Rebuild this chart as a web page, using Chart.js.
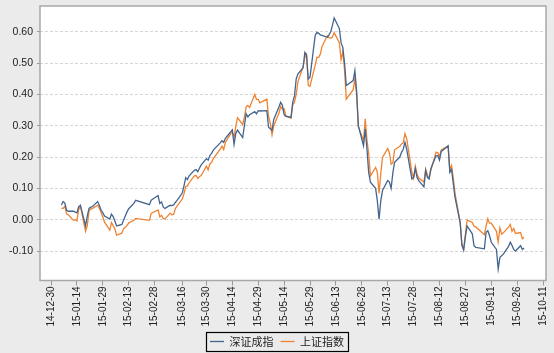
<!DOCTYPE html>
<html>
<head>
<meta charset="utf-8">
<script src="https://cdn.jsdelivr.net/npm/chart.js@4.4.1/dist/chart.umd.min.js"></script>
<style>
  html, body { margin: 0; padding: 0; background: #ebebeb; }
  #wrap { width: 554px; height: 353px; }
</style>
</head>
<body>
<div id="wrap"><canvas id="c" width="554" height="353"></canvas></div>
<script>
// ---- data ----
const dates = [
 '2015-01-05','2015-01-06','2015-01-07','2015-01-08','2015-01-09','2015-01-12','2015-01-13','2015-01-14','2015-01-15','2015-01-16',
 '2015-01-19','2015-01-20','2015-01-21','2015-01-22','2015-01-23','2015-01-26','2015-01-27','2015-01-28','2015-01-29','2015-01-30',
 '2015-02-02','2015-02-03','2015-02-04','2015-02-05','2015-02-06','2015-02-09','2015-02-10','2015-02-11','2015-02-12','2015-02-13',
 '2015-02-16','2015-02-17','2015-02-25','2015-02-26','2015-02-27','2015-03-02','2015-03-03','2015-03-04','2015-03-05','2015-03-06',
 '2015-03-09','2015-03-10','2015-03-11','2015-03-12','2015-03-13','2015-03-16','2015-03-17','2015-03-18','2015-03-19','2015-03-20',
 '2015-03-23','2015-03-24','2015-03-25','2015-03-26','2015-03-27','2015-03-30','2015-03-31','2015-04-01','2015-04-02','2015-04-03',
 '2015-04-07','2015-04-08','2015-04-09','2015-04-10','2015-04-13','2015-04-14','2015-04-15','2015-04-16','2015-04-17','2015-04-20',
 '2015-04-21','2015-04-22','2015-04-23','2015-04-24','2015-04-27','2015-04-28','2015-04-29','2015-04-30','2015-05-04','2015-05-05',
 '2015-05-06','2015-05-07','2015-05-08','2015-05-11','2015-05-12','2015-05-13','2015-05-14','2015-05-15','2015-05-18','2015-05-19',
 '2015-05-20','2015-05-21','2015-05-22','2015-05-25','2015-05-26','2015-05-27','2015-05-28','2015-05-29','2015-06-01','2015-06-02',
 '2015-06-03','2015-06-04','2015-06-05','2015-06-08','2015-06-09','2015-06-10','2015-06-11','2015-06-12','2015-06-15','2015-06-16',
 '2015-06-17','2015-06-18','2015-06-19','2015-06-23','2015-06-24','2015-06-25','2015-06-26','2015-06-29','2015-06-30','2015-07-01',
 '2015-07-02','2015-07-03','2015-07-06','2015-07-07','2015-07-08','2015-07-09','2015-07-10','2015-07-13','2015-07-14','2015-07-15',
 '2015-07-16','2015-07-17','2015-07-20','2015-07-21','2015-07-22','2015-07-23','2015-07-24','2015-07-27','2015-07-28','2015-07-29',
 '2015-07-30','2015-07-31','2015-08-03','2015-08-04','2015-08-05','2015-08-06','2015-08-07','2015-08-10','2015-08-11','2015-08-12',
 '2015-08-13','2015-08-14','2015-08-17','2015-08-18','2015-08-19','2015-08-20','2015-08-21','2015-08-24','2015-08-25','2015-08-26',
 '2015-08-27','2015-08-28','2015-08-31','2015-09-01','2015-09-02','2015-09-07','2015-09-08','2015-09-09','2015-09-10','2015-09-11',
 '2015-09-14','2015-09-15','2015-09-16','2015-09-17','2015-09-18','2015-09-21','2015-09-22','2015-09-23','2015-09-24','2015-09-25',
 '2015-09-28','2015-09-29','2015-09-30'
];

// 深证成指 cumulative return
const szValues = [
 0.047,0.058,0.053,0.030,0.027,0.027,0.024,0.022,0.042,0.046,
 -0.020,0.012,0.036,0.040,0.042,0.058,0.045,0.030,0.022,0.012,
 0.002,0.018,0.010,-0.005,-0.020,-0.015,-0.002,0.012,0.025,0.035,
 0.052,0.062,0.048,0.062,0.066,0.077,0.052,0.057,0.040,0.036,
 0.046,0.045,0.047,0.055,0.062,0.085,0.108,0.134,0.128,0.140,
 0.158,0.160,0.153,0.165,0.175,0.195,0.190,0.205,0.212,0.222,
 0.245,0.252,0.247,0.260,0.280,0.287,0.240,0.275,0.286,0.262,
 0.300,0.338,0.328,0.335,0.345,0.338,0.348,0.347,0.348,0.295,
 0.290,0.285,0.320,0.360,0.375,0.365,0.335,0.330,0.327,0.375,
 0.395,0.449,0.465,0.485,0.534,0.525,0.449,0.455,0.588,0.598,
 0.595,0.590,0.588,0.582,0.590,0.600,0.620,0.644,0.610,0.565,
 0.550,0.500,0.428,0.444,0.476,0.410,0.300,0.236,0.290,0.225,
 0.150,0.120,0.100,0.060,0.002,0.060,0.093,0.125,0.120,0.100,
 0.150,0.183,0.200,0.215,0.225,0.247,0.225,0.130,0.135,0.163,
 0.135,0.125,0.105,0.157,0.135,0.130,0.163,0.204,0.205,0.190,
 0.218,0.222,0.236,0.151,0.160,0.115,0.071,-0.010,-0.080,-0.097,
 -0.055,-0.020,-0.045,-0.083,-0.088,-0.093,-0.040,-0.035,-0.051,-0.072,
 -0.095,-0.157,-0.120,-0.115,-0.110,-0.085,-0.072,-0.082,-0.095,-0.100,
 -0.083,-0.095,-0.090
];

// 上证指数 cumulative return
const shValues = [
 0.036,0.036,0.043,0.018,0.016,-0.002,0.000,-0.004,0.032,0.044,
 -0.037,-0.019,0.028,0.034,0.036,0.046,0.037,0.022,0.009,-0.008,
 -0.033,-0.009,-0.019,-0.030,-0.049,-0.043,-0.029,-0.024,-0.019,-0.010,
 -0.002,0.004,-0.002,0.020,0.023,0.031,0.009,0.014,0.004,0.002,
 0.021,0.016,0.017,0.035,0.043,0.066,0.083,0.106,0.108,0.118,
 0.140,0.141,0.132,0.138,0.141,0.171,0.159,0.178,0.183,0.195,
 0.225,0.235,0.224,0.247,0.274,0.279,0.263,0.297,0.325,0.304,
 0.327,0.360,0.365,0.358,0.400,0.384,0.384,0.373,0.385,0.329,
 0.308,0.271,0.300,0.340,0.361,0.353,0.354,0.332,0.324,0.366,
 0.375,0.400,0.440,0.488,0.518,0.528,0.428,0.426,0.493,0.518,
 0.518,0.529,0.553,0.587,0.581,0.579,0.583,0.597,0.565,0.511,
 0.536,0.479,0.385,0.415,0.450,0.400,0.296,0.253,0.322,0.253,
 0.210,0.140,0.167,0.152,0.084,0.147,0.199,0.227,0.213,0.177,
 0.182,0.223,0.234,0.242,0.245,0.275,0.259,0.152,0.132,0.171,
 0.146,0.133,0.120,0.161,0.142,0.132,0.158,0.215,0.214,0.202,
 0.223,0.226,0.235,0.159,0.173,0.133,0.084,-0.008,-0.083,-0.095,
 -0.047,-0.001,-0.009,-0.021,-0.023,-0.048,-0.020,0.003,-0.011,-0.011,
 -0.037,-0.071,-0.026,-0.046,-0.042,-0.024,-0.015,-0.037,-0.028,-0.044,
 -0.041,-0.061,-0.056
];

const xTickLabels = ['14-12-30','15-01-14','15-01-29','15-02-13','15-02-28','15-03-16','15-03-30','15-04-14','15-04-29',
  '15-05-14','15-05-29','15-06-13','15-06-28','15-07-13','15-07-28','15-08-12','15-08-27','15-09-11','15-09-26','15-10-11'];
const yTicks = [-0.10, 0.00, 0.10, 0.20, 0.30, 0.40, 0.50, 0.60];
const seriesNames = ['深证成指', '上证指数'];

// ---- helpers ----
const ORIGIN = Date.UTC(2014, 11, 30);
function dayOf(s) {
  const p = s.split('-').map(Number);
  return Math.round((Date.UTC(p[0], p[1] - 1, p[2]) - ORIGIN) / 86400000);
}
const xTickValues = xTickLabels.map(l => dayOf('20' + l));

const bgPlugin = {
  id: 'bg',
  beforeDraw(chart) {
    const { ctx, chartArea: a } = chart;
    ctx.save();
    ctx.fillStyle = '#ebebeb';
    ctx.fillRect(0, 0, chart.width, chart.height);
    ctx.fillStyle = '#ffffff';
    ctx.fillRect(a.left, a.top, a.right - a.left, a.bottom - a.top);
    ctx.restore();
  },
  afterDatasetsDraw(chart) {
    const { ctx, chartArea: a } = chart;
    ctx.save();
    ctx.strokeStyle = '#a8a8a8';
    ctx.lineWidth = 1.5;
    ctx.strokeRect(a.left, a.top, a.right - a.left, a.bottom - a.top);
    ctx.restore();
  },
  afterDraw(chart) {
    const lg = chart.legend;
    if (!lg || !lg.legendHitBoxes || !lg.legendHitBoxes.length) return;
    const hb = lg.legendHitBoxes;
    let l = Infinity, r = -Infinity, t = Infinity, b = -Infinity;
    hb.forEach(h => { l = Math.min(l, h.left); r = Math.max(r, h.left + h.width); t = Math.min(t, h.top); b = Math.max(b, h.top + h.height); });
    const ctx = chart.ctx;
    ctx.save();
    ctx.strokeStyle = '#000';
    ctx.lineWidth = 1.2;
    ctx.strokeRect(Math.round(l - 4) + 0.5, Math.round(t - 4) + 0.5, Math.round(r - l + 8), Math.round(b - t + 8));
    ctx.restore();
  }
};

new Chart(document.getElementById('c'), {
  type: 'line',
  data: {
    datasets: [
      { label: seriesNames[0], data: dates.map((d, i) => ({ x: dayOf(d), y: szValues[i] })),
        borderColor: '#43658f', backgroundColor: '#43658f', borderWidth: 1.3, pointRadius: 0, tension: 0 },
      { label: seriesNames[1], data: dates.map((d, i) => ({ x: dayOf(d), y: shValues[i] })),
        borderColor: '#ef8331', backgroundColor: '#ef8331', borderWidth: 1.3, pointRadius: 0, tension: 0 }
    ]
  },
  options: {
    responsive: false,
    animation: false,
    devicePixelRatio: 1,
    layout: { padding: { left: 0, right: 0, top: 6, bottom: -4 } },
    plugins: {
      tooltip: { enabled: false },
      legend: {
        position: 'bottom',
        labels: {
          usePointStyle: true, pointStyle: 'line', pointStyleWidth: 14,
          font: { size: 11, family: '"Noto Sans CJK SC", sans-serif' },
          color: '#222', padding: 7
        }
      }
    },
    scales: {
      x: {
        type: 'linear', min: -6.4, max: 286.7,
        afterBuildTicks: s => { s.ticks = xTickValues.map(v => ({ value: v })); },
        afterFit: s => { s.height = 48.5; s.paddingLeft = 0; s.paddingRight = 8; },
        ticks: { autoSkip: false, maxRotation: 90, minRotation: 90, padding: 1,
          callback: (v, i) => xTickLabels[i],
          font: { size: 10, family: '"Liberation Sans", Arial, sans-serif' }, color: '#222' },
        grid: { drawOnChartArea: false, drawTicks: true, tickLength: 5, color: '#999' },
        border: { display: false }
      },
      y: {
        min: -0.194, max: 0.682,
        afterBuildTicks: s => { s.ticks = yTicks.map(v => ({ value: v })); },
        afterFit: s => { s.width = 40; s.paddingTop = 0; s.paddingBottom = 0; },
        ticks: { padding: 4, callback: v => v.toFixed(2),
          font: { size: 10.5, family: '"Liberation Sans", Arial, sans-serif' }, color: '#222' },
        grid: { color: '#d6d6d6', tickColor: '#999', tickLength: 3, drawTicks: true },
        border: { display: false, dash: [3, 2] }
      }
    }
  },
  plugins: [bgPlugin]
});
</script>
</body>
</html>
